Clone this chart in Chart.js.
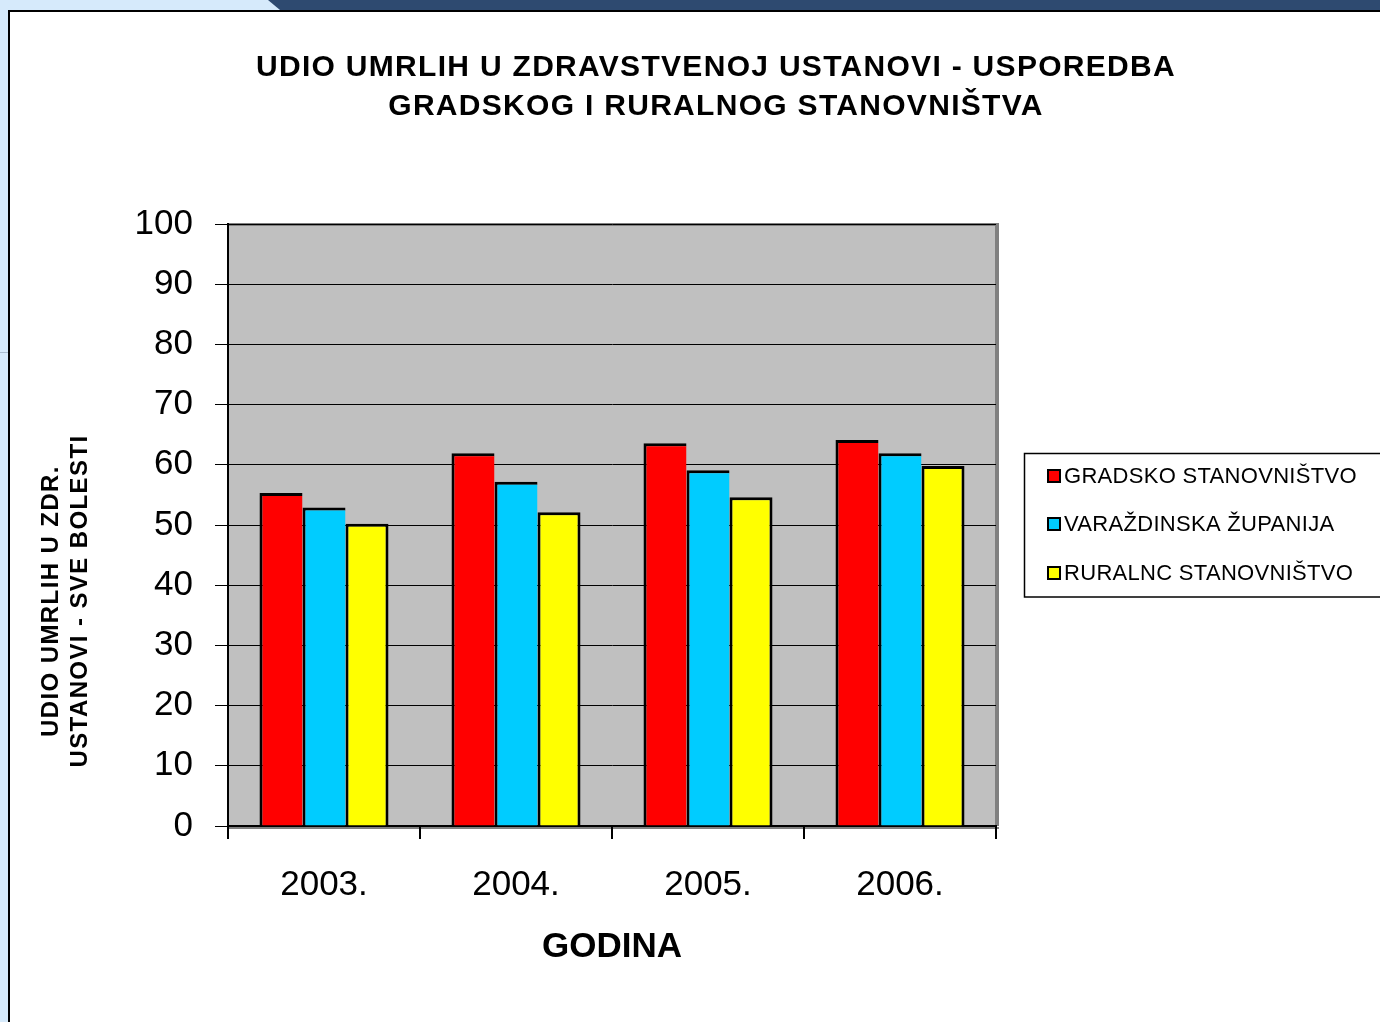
<!DOCTYPE html>
<html>
<head>
<meta charset="utf-8">
<script src="https://cdn.jsdelivr.net/npm/chart.js@4.4.1/dist/chart.umd.min.js"></script>
<style>
  body { margin: 0; background: #d6eafb; width: 1380px; height: 1022px; overflow: hidden; position: relative; }
  #band { position: absolute; top: 0; left: 268px; width: 1112px; height: 10px; background: #2e4a70;
          clip-path: polygon(0 0, 100% 0, 100% 100%, 12px 100%); }
  #panel { position: absolute; left: 8px; top: 10px; right: 0; bottom: 0; background: #fff;
           border-left: 2px solid #000; border-top: 2px solid #000; }
  #notch { position: absolute; left: 0; top: 352px; width: 8px; height: 1px; background: #a9bccf; }
  canvas { position: absolute; left: 0; top: 0; }
</style>
</head>
<body>
<div id="band"></div>
<div id="panel"></div>
<div id="notch"></div>
<canvas id="chart" width="1380" height="1022"></canvas>
<script>
const years = ['2003.', '2004.', '2005.', '2006.'];
const gradsko = [55.3, 61.9, 63.6, 64.1];
const varazdinska = [52.9, 57.2, 59.1, 61.9];
const ruralno = [50.2, 52.1, 54.6, 59.8];
const seriesNames = ['GRADSKO STANOVNIŠTVO', 'VARAŽDINSKA ŽUPANIJA', 'RURALNC STANOVNIŠTVO'];
const seriesColors = ['#ff0000', '#00ccff', '#ffff00'];
const chartTitle = ['UDIO UMRLIH U ZDRAVSTVENOJ USTANOVI - USPOREDBA', 'GRADSKOG I RURALNOG STANOVNIŠTVA'];
const yTitle = ['UDIO UMRLIH U ZDR.', 'USTANOVI - SVE BOLESTI'];
const xTitle = 'GODINA';

const FONT = "'Liberation Sans', Arial, sans-serif";

// siva pozadina grafa i okvir gore/desno
const plotBg = {
  id: 'plotBg',
  beforeDraw(chart) {
    const { ctx, chartArea: a } = chart;
    ctx.save();
    ctx.fillStyle = '#c0c0c0';
    ctx.fillRect(a.left, a.top, a.right - a.left, a.bottom - a.top);
    ctx.fillStyle = '#808080';
    ctx.fillRect(a.left, a.top - 1, a.right - a.left + 3, 3);
    ctx.fillRect(a.right - 1, a.top - 1, 4, a.bottom - a.top + 1);
    ctx.fillRect(a.left, a.bottom + 1, a.right - a.left + 3, 2);
    ctx.restore();
  }
};

// naslov grafa i naslov y osi
const titles = {
  id: 'titles',
  afterDraw(chart) {
    const { ctx } = chart;
    ctx.save();
    ctx.fillStyle = '#000';
    ctx.textAlign = 'center';
    ctx.textBaseline = 'middle';
    ctx.font = 'bold 30px ' + FONT;
    ctx.letterSpacing = '1.3px';
    ctx.fillText(chartTitle[0], 716, 68);
    ctx.fillText(chartTitle[1], 716, 107);
    ctx.font = 'bold 24px ' + FONT;
    ctx.letterSpacing = '1.4px';
    [51, 80].forEach((x, i) => {
      ctx.save();
      ctx.translate(x, 601);
      ctx.rotate(-Math.PI / 2);
      ctx.fillText(yTitle[i], 0, 0);
      ctx.restore();
    });
    ctx.restore();
  }
};

// legenda u okviru desno
const boxLegend = {
  id: 'boxLegend',
  afterDraw(chart) {
    const { ctx } = chart;
    ctx.save();
    ctx.strokeStyle = '#000';
    ctx.lineWidth = 1.5;
    ctx.strokeRect(1024.5, 453.5, 400, 143.5);
    ctx.font = '22px ' + FONT;
    ctx.letterSpacing = '0.3px';
    ctx.textBaseline = 'middle';
    const rows = [476, 524, 573];
    chart.data.datasets.forEach((ds, i) => {
      const y = rows[i];
      ctx.fillStyle = '#000';
      ctx.fillRect(1047, y - 7, 14, 14);
      ctx.fillStyle = ds.backgroundColor;
      ctx.fillRect(1049, y - 5, 10, 10);
      ctx.fillStyle = '#000';
      ctx.fillText(ds.label, 1064, y + 1);
    });
    ctx.restore();
  }
};

const dataSets = [gradsko, varazdinska, ruralno].map((vals, i) => ({
  label: seriesNames[i],
  data: vals,
  backgroundColor: seriesColors[i],
  borderColor: '#000',
  borderWidth: { top: 3, left: 3, right: i === 2 ? 3 : 0, bottom: 0 },
  borderSkipped: false,
  categoryPercentage: 0.672,
  barPercentage: 1.0
}));

new Chart(document.getElementById('chart'), {
  type: 'bar',
  data: { labels: years, datasets: dataSets },
  plugins: [plotBg, titles, boxLegend],
  options: {
    responsive: false,
    animation: false,
    events: [],
    layout: { padding: { left: 0, right: 384, top: 224, bottom: 54 } },
    plugins: {
      legend: { display: false },
      tooltip: { enabled: false },
      title: { display: false }
    },
    scales: {
      x: {
        afterFit(scale) { scale.height = 142; },
        grid: { offset: true, drawOnChartArea: false, drawTicks: true, tickLength: 13, color: '#000', lineWidth: 2 },
        border: { color: '#000', width: 2 },
        ticks: { color: '#000', padding: 25, font: { family: FONT, size: 35 } },
        title: {
          display: true, text: xTitle, color: '#000',
          font: { family: FONT, size: 35, weight: 'bold' },
          padding: { top: 0, bottom: 0 }
        }
      },
      y: {
        min: 0, max: 100,
        afterFit(scale) { scale.width = 228; },
        grid: { color: '#000', lineWidth: 1, tickLength: 13 },
        border: { color: '#000', width: 2 },
        ticks: { stepSize: 10, color: '#000', padding: 22, font: { family: FONT, size: 35 } }
      }
    }
  }
});
</script>
</body>
</html>
